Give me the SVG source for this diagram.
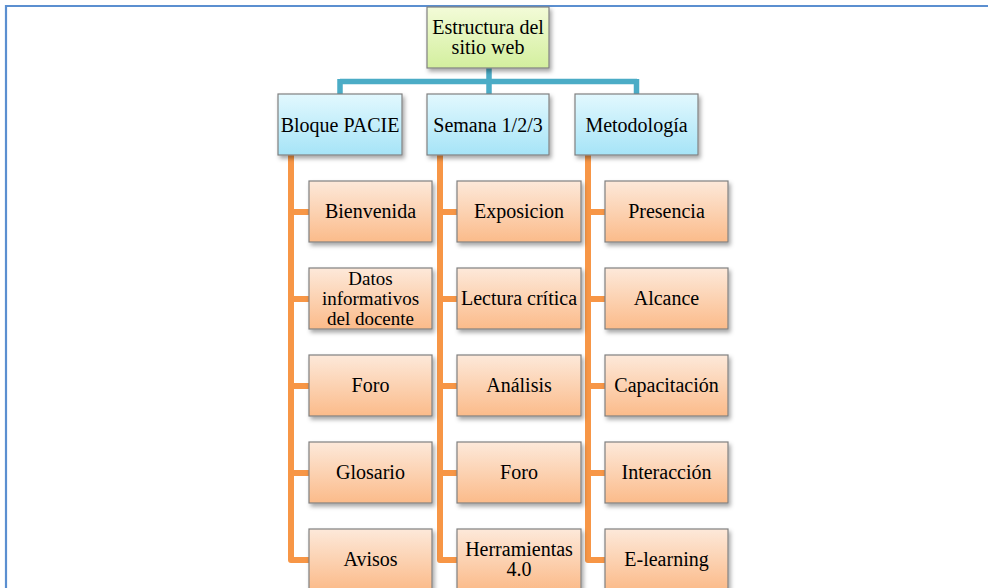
<svg xmlns="http://www.w3.org/2000/svg" width="988" height="588" viewBox="0 0 988 588">
<defs>
<linearGradient id="gRoot" x1="0" y1="0" x2="0" y2="1"><stop offset="0" stop-color="#f3fbd8"/><stop offset="1" stop-color="#d3ef9e"/></linearGradient>
<linearGradient id="gL1" x1="0" y1="0" x2="0" y2="1"><stop offset="0" stop-color="#e2f8fe"/><stop offset="1" stop-color="#a6e4f7"/></linearGradient>
<linearGradient id="gL2" x1="0" y1="0" x2="0" y2="1"><stop offset="0" stop-color="#fde9da"/><stop offset="1" stop-color="#fbbb8a"/></linearGradient>
<filter id="sh" x="-10%" y="-10%" width="130%" height="140%"><feDropShadow dx="2" dy="3" stdDeviation="2" flood-color="#000" flood-opacity="0.35"/></filter>
<style>
.box{stroke:#808080;stroke-width:1.2;filter:url(#sh)}
.root{fill:url(#gRoot)}
.l1{fill:url(#gL1)}
.l2{fill:url(#gL2)}
text{font-family:"Liberation Serif","Times New Roman",serif;font-size:20px;fill:#000;text-anchor:middle}
.sm{font-size:19px}
.cy{stroke:#4bacc6;stroke-width:5.5;fill:none}
.or{stroke:#f79646;stroke-width:6;fill:none;stroke-linejoin:round}
</style>
</defs>
<rect x="0" y="0" width="988" height="588" fill="#fff"/>
<path d="M6,588 V6 H988" fill="none" stroke="#5b8fd0" stroke-width="2.2"/>
<g id="connectors">
<path class="cy" d="M489,68 V81.5 M340,81.5 H637 M340,79 V94 M489,81.5 V94 M636.5,79 V94"/>
<path class="or" d="M291,154 V560 H309 M291,212 H309 M291,299 H309 M291,386 H309 M291,473 H309"/>
<path class="or" d="M440,155 V560 H457 M440,212 H457 M440,299 H457 M440,386 H457 M440,473 H457"/>
<path class="or" d="M588,155 V560 H605 M588,212 H605 M588,299 H605 M588,386 H605 M588,473 H605"/>
</g>
<g id="root"><rect class="box root" x="427" y="7" width="122" height="61"/><text x="488" y="34">Estructura del</text><text x="488" y="54">sitio web</text></g>
<g id="bloque"><rect class="box l1" x="278" y="94" width="124" height="61"/><text x="340" y="131.5">Bloque PACIE</text></g>
<g id="semana"><rect class="box l1" x="427" y="94" width="122" height="61"/><text x="488" y="131.5">Semana 1/2/3</text></g>
<g id="metodologia"><rect class="box l1" x="575" y="94" width="123" height="61"/><text x="636.5" y="131.5">Metodología</text></g>

<g id="bienvenida"><rect class="box l2" x="309" y="181" width="123" height="61"/><text x="370.5" y="218">Bienvenida</text></g>
<g id="datos"><rect class="box l2" x="309" y="268" width="123" height="61"/><text class="sm" x="370.5" y="285">Datos</text><text class="sm" x="370.5" y="305">informativos</text><text class="sm" x="370.5" y="325">del docente</text></g>
<g id="foro1"><rect class="box l2" x="309" y="355" width="123" height="61"/><text x="370.5" y="392">Foro</text></g>
<g id="glosario"><rect class="box l2" x="309" y="442" width="123" height="61"/><text x="370.5" y="479">Glosario</text></g>
<g id="avisos"><rect class="box l2" x="309" y="529" width="123" height="61"/><text x="370.5" y="566">Avisos</text></g>

<g id="exposicion"><rect class="box l2" x="457" y="181" width="124" height="61"/><text x="519" y="218">Exposicion</text></g>
<g id="lectura"><rect class="box l2" x="457" y="268" width="124" height="61"/><text x="519" y="305">Lectura crítica</text></g>
<g id="analisis"><rect class="box l2" x="457" y="355" width="124" height="61"/><text x="519" y="392">Análisis</text></g>
<g id="foro2"><rect class="box l2" x="457" y="442" width="124" height="61"/><text x="519" y="479">Foro</text></g>
<g id="herramientas"><rect class="box l2" x="457" y="529" width="124" height="61"/><text x="519" y="556">Herramientas</text><text x="519" y="576">4.0</text></g>

<g id="presencia"><rect class="box l2" x="605" y="181" width="123" height="61"/><text x="666.5" y="218">Presencia</text></g>
<g id="alcance"><rect class="box l2" x="605" y="268" width="123" height="61"/><text x="666.5" y="305">Alcance</text></g>
<g id="capacitacion"><rect class="box l2" x="605" y="355" width="123" height="61"/><text x="666.5" y="392">Capacitación</text></g>
<g id="interaccion"><rect class="box l2" x="605" y="442" width="123" height="61"/><text x="666.5" y="479">Interacción</text></g>
<g id="elearning"><rect class="box l2" x="605" y="529" width="123" height="61"/><text x="666.5" y="566">E-learning</text></g>
</svg>
